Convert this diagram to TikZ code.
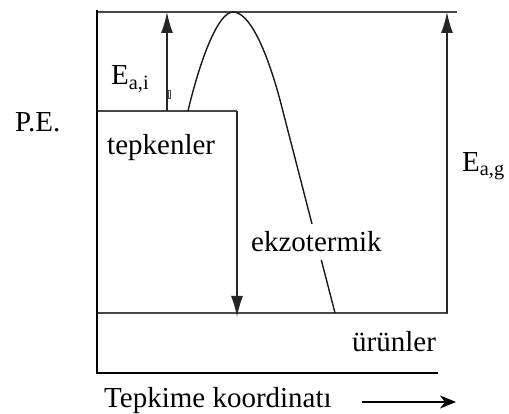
\documentclass[tikz,border=0pt]{standalone}
\usepackage{fontspec}
\setmainfont{Liberation Serif}
\usetikzlibrary{arrows.meta}
\tikzset{
  lbl/.style={anchor=base west, inner sep=0pt, font=\fontsize{29}{33}\selectfont},
  axisline/.style={line width=2.8pt, black},
  level/.style={line width=1.6pt, black!72},
  enarrow/.style={line width=1.5pt, black!85, -{Latex[length=21pt,width=12pt]}},
  curveline/.style={line width=1.4pt, black!90},
}
\begin{document}
\begin{tikzpicture}[x=1pt,y=-1pt]
\useasboundingbox (0,0) rectangle (509,414);
% coordinates
\coordinate (axtop) at (97,10);
\coordinate (origin) at (97,373);
\coordinate (axend) at (438,373);
\coordinate (topl) at (97,12);
\coordinate (topr) at (457,12);
\coordinate (reacl) at (97,111);
\coordinate (reacr) at (237,111);
\coordinate (prodend) at (237,317);
\coordinate (prodl) at (97,313);
\coordinate (prodr) at (448,313);
\coordinate (eaib) at (167,111);
\coordinate (eait) at (167,12);
\coordinate (eagb) at (447,313);
\coordinate (eagt) at (447,12);
\coordinate (xarrs) at (362,402);
\coordinate (xarre) at (456,402);
\coordinate (cstart) at (188,111);
\coordinate (cpeak) at (233,12);
\coordinate (cmid) at (280,100);
\coordinate (cend) at (335,313);
% levels
\draw[level] (topl) -- (topr);
\draw[level] (reacl) -- (reacr);
\draw[level] (prodl) -- (prodr);
% axes
\draw[axisline] (axtop) -- (origin) -- (axend);
% energy arrows
\draw[enarrow] (eaib) -- (eait);
\draw[enarrow] (eagb) -- (eagt);
\draw[enarrow] (reacr) -- (prodend);
% small mark
\draw[line width=0.6pt, black!70] (168,90) rectangle (170.5,98);
% curve
\draw[curveline] (cstart) .. controls (200,60) and (218,12) .. (cpeak)
  .. controls (249,12) and (266,48) .. (cmid) -- (cend);
% labels
\node[lbl] (pe) at (15,132) {P.E.};
\node[lbl] (eai) at (111,85) {E\textsubscript{a,i}};
\node[lbl] (tep) at (107,155) {tepkenler};
\node[lbl] (eag) at (462,172) {E\textsubscript{a,g}};
\node[lbl, fill=white, inner ysep=8pt] (ekz) at (251,252) {ekzotermik};
\node[lbl] (urun) at (352,352) {ürünler};
\node[lbl] (tk) at (104,407) {Tepkime koordinatı};
\draw[line width=2pt, -{Stealth[length=16pt,width=13pt,inset=5pt]}] (xarrs) -- (xarre);
\end{tikzpicture}
\end{document}
